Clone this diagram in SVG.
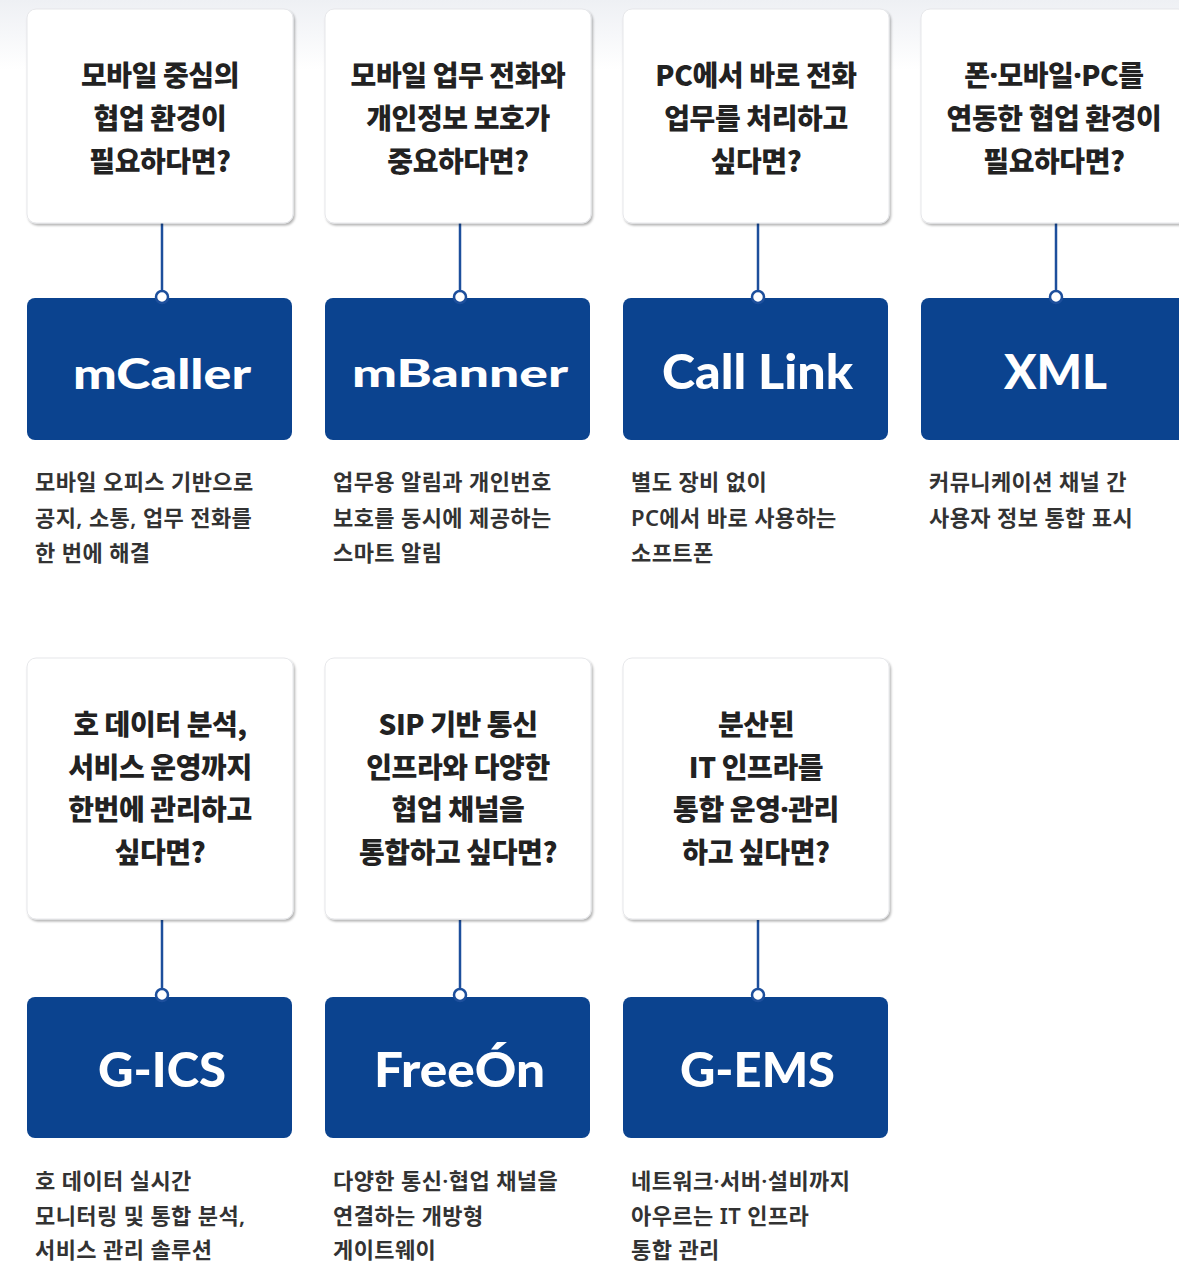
<svg xmlns="http://www.w3.org/2000/svg" width="1179" height="1263" viewBox="0 0 1179 1263">
<defs>
<linearGradient id="bg" x1="0" y1="0" x2="0" y2="1">
<stop offset="0" stop-color="#eef0f4"/>
<stop offset="1" stop-color="#ffffff"/>
</linearGradient>
<filter id="sh" x="-5%" y="-5%" width="115%" height="115%">
<feDropShadow dx="1.5" dy="2" stdDeviation="1.2" flood-color="#000" flood-opacity="0.3"/>
</filter>
<style>
.card{fill:#fff;stroke:#e6e7ea;stroke-width:1;filter:url(#sh)}
.box{fill:#0b438f}
.q{font-family:"Noto Sans CJK KR","Noto Sans",sans-serif;font-weight:900;font-size:28px;letter-spacing:-0.4px;fill:#222;text-anchor:middle;dominant-baseline:central}
.q .m{font-family:"Noto Sans",sans-serif}
.d{font-family:"Noto Sans","Noto Sans CJK KR",sans-serif;font-weight:600;font-size:22px;letter-spacing:0.4px;fill:#333;dominant-baseline:central}
.n{font-family:"Lato","Open Sans",sans-serif;font-weight:900;fill:#fff;text-anchor:middle}
.ln{stroke:#1d4f9c;stroke-width:2.5;fill:none}
.dot{fill:#fff;stroke:#1d4f9c;stroke-width:2.5}
</style>
</defs>
<rect x="0" y="0" width="1179" height="1263" fill="#fff"/>
<rect x="0" y="0" width="1179" height="70" fill="url(#bg)"/>

<g id="connectors">
<line class="ln" x1="162" y1="223" x2="162" y2="292"/>
<line class="ln" x1="460" y1="223" x2="460" y2="292"/>
<line class="ln" x1="758" y1="223" x2="758" y2="292"/>
<line class="ln" x1="1056" y1="223" x2="1056" y2="292"/>
<line class="ln" x1="162" y1="920" x2="162" y2="991"/>
<line class="ln" x1="460" y1="920" x2="460" y2="991"/>
<line class="ln" x1="758" y1="920" x2="758" y2="991"/>
</g>

<g id="q1"><rect class="card" x="27" y="9" width="266" height="214" rx="9"/>
<text class="q" x="160" y="74">모바일 중심의</text><text class="q" x="160" y="117">협업 환경이</text><text class="q" x="160" y="160">필요하다면?</text></g>
<g id="q2"><rect class="card" x="325" y="9" width="266" height="214" rx="9"/>
<text class="q" x="458" y="74">모바일 업무 전화와</text><text class="q" x="458" y="117">개인정보 보호가</text><text class="q" x="458" y="160">중요하다면?</text></g>
<g id="q3"><rect class="card" x="623" y="9" width="266" height="214" rx="9"/>
<text class="q" x="756" y="74">PC에서 바로 전화</text><text class="q" x="756" y="117">업무를 처리하고</text><text class="q" x="756" y="160">싶다면?</text></g>
<g id="q4"><rect class="card" x="921" y="9" width="266" height="214" rx="9"/>
<text class="q" x="1054" y="74">폰<tspan class="m">·</tspan>모바일<tspan class="m">·</tspan>PC를</text><text class="q" x="1054" y="117">연동한 협업 환경이</text><text class="q" x="1054" y="160">필요하다면?</text></g>

<g id="p1"><rect class="box" x="27" y="298" width="265" height="142" rx="8"/>
<text class="n" x="162" y="389" font-size="42" textLength="178" lengthAdjust="spacingAndGlyphs">mCaller</text></g>
<g id="p2"><rect class="box" x="325" y="298" width="265" height="142" rx="8"/>
<text class="n" x="460" y="387" font-size="37" textLength="216" lengthAdjust="spacingAndGlyphs">mBanner</text></g>
<g id="p3"><rect class="box" x="623" y="298" width="265" height="142" rx="8"/>
<text class="n" x="757.5" y="389" font-size="47" textLength="191" lengthAdjust="spacingAndGlyphs">Call Link</text></g>
<g id="p4"><rect class="box" x="921" y="298" width="265" height="142" rx="8"/>
<text class="n" x="1055.5" y="389" font-size="47" textLength="103" lengthAdjust="spacingAndGlyphs">XML</text></g>

<g id="dots">
<circle class="dot" cx="162" cy="297" r="6"/>
<circle class="dot" cx="460" cy="297" r="6"/>
<circle class="dot" cx="758" cy="297" r="6"/>
<circle class="dot" cx="1056" cy="297" r="6"/>
</g>

<g id="d1"><text class="d" x="35" y="481">모바일 오피스 기반으로</text><text class="d" x="35" y="516.5">공지, 소통, 업무 전화를</text><text class="d" x="35" y="552">한 번에 해결</text></g>
<g id="d2"><text class="d" x="333" y="481">업무용 알림과 개인번호</text><text class="d" x="333" y="516.5">보호를 동시에 제공하는</text><text class="d" x="333" y="552">스마트 알림</text></g>
<g id="d3"><text class="d" x="631" y="481">별도 장비 없이</text><text class="d" x="631" y="516.5">PC에서 바로 사용하는</text><text class="d" x="631" y="552">소프트폰</text></g>
<g id="d4"><text class="d" x="929" y="481">커뮤니케이션 채널 간</text><text class="d" x="929" y="516.5">사용자 정보 통합 표시</text></g>

<g id="q5"><rect class="card" x="27" y="658" width="266" height="261" rx="9"/>
<text class="q" x="160" y="723">호 데이터 분석,</text><text class="q" x="160" y="765.5">서비스 운영까지</text><text class="q" x="160" y="808">한번에 관리하고</text><text class="q" x="160" y="850.5">싶다면?</text></g>
<g id="q6"><rect class="card" x="325" y="658" width="266" height="261" rx="9"/>
<text class="q" x="458" y="723">SIP 기반 통신</text><text class="q" x="458" y="765.5">인프라와 다양한</text><text class="q" x="458" y="808">협업 채널을</text><text class="q" x="458" y="850.5">통합하고 싶다면?</text></g>
<g id="q7"><rect class="card" x="623" y="658" width="266" height="261" rx="9"/>
<text class="q" x="756" y="723">분산된</text><text class="q" x="756" y="765.5">IT 인프라를</text><text class="q" x="756" y="808">통합 운영<tspan class="m">·</tspan>관리</text><text class="q" x="756" y="850.5">하고 싶다면?</text></g>

<g id="p5"><rect class="box" x="27" y="997" width="265" height="141" rx="8"/>
<text class="n" x="162" y="1087" font-size="48" textLength="128" lengthAdjust="spacingAndGlyphs">G-ICS</text></g>
<g id="p6"><rect class="box" x="325" y="997" width="265" height="141" rx="8"/>
<text class="n" x="459.5" y="1087" font-size="48" textLength="171" lengthAdjust="spacingAndGlyphs">FreeÓn</text></g>
<g id="p7"><rect class="box" x="623" y="997" width="265" height="141" rx="8"/>
<text class="n" x="757.5" y="1087" font-size="48" textLength="155" lengthAdjust="spacingAndGlyphs">G-EMS</text></g>

<g id="dots2">
<circle class="dot" cx="162" cy="995" r="6"/>
<circle class="dot" cx="460" cy="995" r="6"/>
<circle class="dot" cx="758" cy="995" r="6"/>
</g>

<g id="d5"><text class="d" x="35" y="1180">호 데이터 실시간</text><text class="d" x="35" y="1215">모니터링 및 통합 분석,</text><text class="d" x="35" y="1249">서비스 관리 솔루션</text></g>
<g id="d6"><text class="d" x="333" y="1180">다양한 통신·협업 채널을</text><text class="d" x="333" y="1215">연결하는 개방형</text><text class="d" x="333" y="1249">게이트웨이</text></g>
<g id="d7"><text class="d" x="631" y="1180">네트워크·서버·설비까지</text><text class="d" x="631" y="1215">아우르는 IT 인프라</text><text class="d" x="631" y="1249">통합 관리</text></g>
</svg>
